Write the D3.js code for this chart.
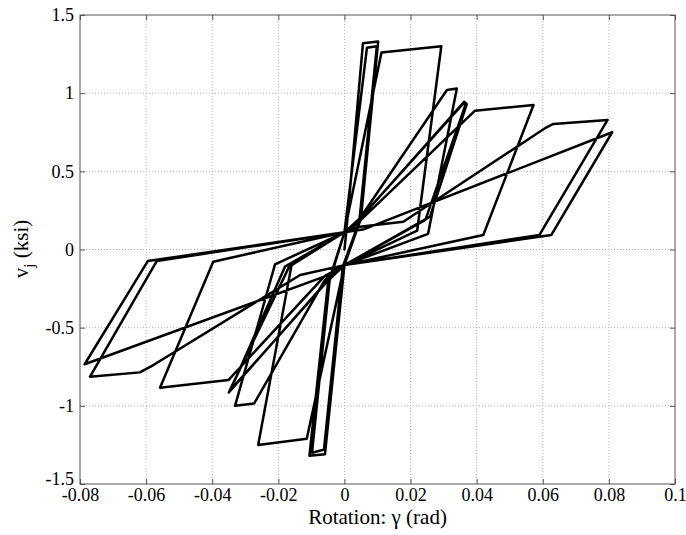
<!DOCTYPE html>
<html>
<head>
<meta charset="utf-8">
<script src="https://cdn.jsdelivr.net/npm/d3@7"></script>
<style>
  html, body { margin: 0; padding: 0; background: #fff; }
  svg { display: block; }
  svg text { font-family: "Liberation Serif", "Times New Roman", Times, serif !important; fill: #000; }
</style>
</head>
<body>
<svg id="chart" width="686" height="535"></svg>
<script>
// ---- data (rotation in rad, joint shear stress in ksi) ----
const gamma = [
  0, 0.0005, 0.0056, 0.0102, 0.0050, 0.0000, -0.0059, -0.0106, -0.0050, 0.0000,
  0.0068, 0.0098, 0.0045, -0.0005, -0.0062, -0.0098, -0.0045, 0.0000,
  0.0112, 0.0293, 0.0220, 0.0000, -0.0114, -0.0261, -0.0160, 0.0000,
  0.0047, 0.0310, 0.0340, 0.0253, 0.0000, -0.0059, -0.0273, -0.0331, -0.0210, 0.0000,
  0.0040, 0.0362, 0.0370, 0.0259, 0.0000, -0.0050, -0.0345, -0.0350, -0.0165, 0.0000,
  0.0035, 0.0360, 0.0366, 0.0245, 0.0000, -0.0048, -0.0342, -0.0346, -0.0180, 0.0000,
  0.0030, 0.0395, 0.0572, 0.0420, 0.0000, -0.0060, -0.0351, -0.0558, -0.0397, 0.0000,
  0.0047, 0.0178, 0.0610, 0.0632, 0.0796, 0.0590, 0.0000, -0.0134, -0.0578, -0.0619, -0.0770, -0.0568, 0.0000,
  0.0060, 0.0810, 0.0626, 0.0000, -0.0030, -0.0786, -0.0595, 0.0000
];
const shear = [
  0, 0.10, 1.32, 1.33, 0.20, -0.10, -1.31, -1.32, -0.22, 0.11,
  1.29, 1.30, 0.18, -0.11, -1.28, -1.30, -0.20, 0.11,
  1.26, 1.30, 0.12, -0.10, -1.21, -1.25, -0.10, 0.11,
  0.20, 1.02, 1.03, 0.10, -0.10, -0.195, -0.985, -1.00, -0.095, 0.11,
  0.18, 0.945, 0.93, 0.21, -0.10, -0.20, -0.90, -0.915, -0.10, 0.11,
  0.17, 0.935, 0.925, 0.19, -0.10, -0.19, -0.895, -0.905, -0.11, 0.11,
  0.15, 0.888, 0.924, 0.093, -0.10, -0.17, -0.835, -0.884, -0.078, 0.11,
  0.146, 0.178, 0.780, 0.803, 0.829, 0.093, -0.10, -0.163, -0.739, -0.786, -0.814, -0.074, 0.11,
  0.13, 0.75, 0.093, -0.10, -0.15, -0.734, -0.074, 0.11
];
const xTicks = [-0.08, -0.06, -0.04, -0.02, 0, 0.02, 0.04, 0.06, 0.08, 0.1];
const yTicks = [-1.5, -1, -0.5, 0, 0.5, 1, 1.5];
const xLabel = "Rotation: \u03b3 (rad)";
const yLabelMain = "v";
const yLabelSub = "j";
const yLabelUnit = " (ksi)";

// ---- layout ----
const svg = d3.select("#chart");
const L = 80, R = 675, T = 15, B = 484;

const x = d3.scaleLinear().domain([-0.08, 0.1]).range([L, R]);
const y = d3.scaleLinear().domain([-1.5, 1.5]).range([B, T]);
const fmt = d => String(+d.toFixed(2));

// grid
const grid = svg.append("g");
grid.selectAll("line.gx").data(xTicks.filter(d => d > -0.08 && d < 0.1)).join("line")
  .attr("x1", d => x(d)).attr("x2", d => x(d)).attr("y1", T).attr("y2", B)
  .attr("stroke", "#b4b4b4").attr("stroke-width", 1).attr("stroke-dasharray", "1,2");
grid.selectAll("line.gy").data(yTicks.filter(d => d > -1.5 && d < 1.5)).join("line")
  .attr("x1", L).attr("x2", R).attr("y1", d => y(d)).attr("y2", d => y(d))
  .attr("stroke", "#b4b4b4").attr("stroke-width", 1).attr("stroke-dasharray", "1,2");

// axes (ticks pointing inward, MATLAB style, on all four sides)
const tickFont = 18;
const axB = svg.append("g").attr("transform", `translate(0,${B})`)
  .call(d3.axisBottom(x).tickValues(xTicks).tickFormat(fmt).tickSize(-5).tickPadding(4));
const axT = svg.append("g").attr("transform", `translate(0,${T})`)
  .call(d3.axisTop(x).tickValues(xTicks).tickFormat("").tickSize(-5));
const axL = svg.append("g").attr("transform", `translate(${L},0)`)
  .call(d3.axisLeft(y).tickValues(yTicks).tickFormat(fmt).tickSize(-5).tickPadding(6));
const axR = svg.append("g").attr("transform", `translate(${R},0)`)
  .call(d3.axisRight(y).tickValues(yTicks).tickFormat("").tickSize(-5));

[axB, axT, axL, axR].forEach(a => {
  a.attr("font-family", null);
  a.select(".domain").remove();
  a.selectAll(".tick line").attr("stroke", "#555").attr("stroke-width", 1);
  a.selectAll("text").attr("font-size", tickFont).attr("fill", "#000");
});
// nudge the lowest y label up slightly so it does not collide with the first x label
axL.selectAll(".tick").filter(d => d === -1.5).select("text").attr("dy", "0.05em");

// hysteresis curve
const pts = gamma.map((g, i) => [g, shear[i]]);
const line = d3.line().x(d => x(d[0])).y(d => y(d[1]));
svg.append("path").datum(pts)
  .attr("d", line)
  .attr("fill", "none")
  .attr("stroke", "#000")
  .attr("stroke-width", 2.5)
  .attr("stroke-linejoin", "round")
  .attr("stroke-linecap", "round");

// box
svg.append("rect").attr("x", L).attr("y", T).attr("width", R - L).attr("height", B - T)
  .attr("fill", "none").attr("stroke", "#555").attr("stroke-width", 1);

// axis labels
svg.append("text").attr("x", (L + R) / 2).attr("y", 524)
  .attr("text-anchor", "middle").attr("font-size", 21).text(xLabel);

const yl = svg.append("text")
  .attr("transform", `translate(28,${249}) rotate(-90)`)
  .attr("text-anchor", "middle").attr("font-size", 21);
yl.append("tspan").text(yLabelMain);
yl.append("tspan").attr("dy", 6).attr("font-size", 15).text(yLabelSub);
yl.append("tspan").attr("dy", -6).text(yLabelUnit);
</script>
</body>
</html>
